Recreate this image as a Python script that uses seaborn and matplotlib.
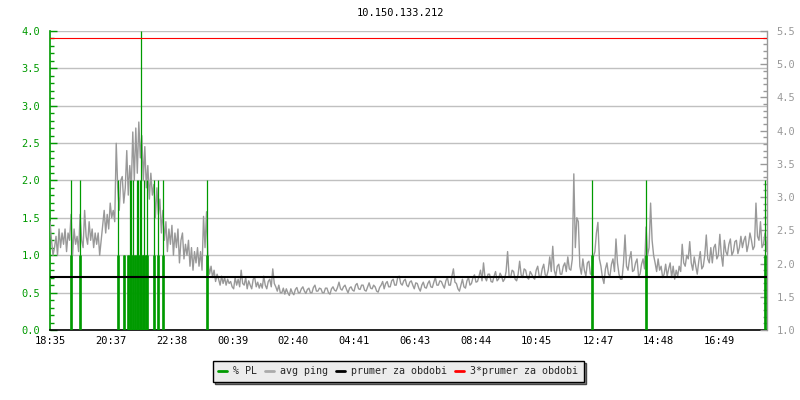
import matplotlib
matplotlib.use("Agg")
import matplotlib.pyplot as plt
import seaborn as sns
import pandas as pd
from matplotlib.lines import Line2D
from matplotlib.ticker import MultipleLocator, FixedLocator, FormatStrFormatter

# ---------------- data ----------------
title = "10.150.133.212"
start_label = "18:35"
tick_labels = ["18:35", "20:37", "22:38", "00:39", "02:40", "04:41",
               "06:43", "08:44", "10:45", "12:47", "14:48", "16:49"]
span_minutes = 1429
sample_step_min = 3

avg_ping = [
    2.63, 2.35, 2.125, 2.24, 2.41, 2.125, 2.52, 2.24, 2.46, 2.29, 2.52, 2.18, 2.46, 2.35, 2.74, 2.125, 2.52, 2.29, 2.41, 2.18,
    2.74, 2.35, 2.24, 2.80, 2.41, 2.29, 2.63, 2.35, 2.52, 2.24, 2.46, 2.29, 2.46, 2.125, 2.35, 2.575, 2.80, 2.46, 2.74, 2.52,
    2.91, 2.69, 2.80, 2.63, 3.81, 3.14, 2.80, 3.25, 3.31, 2.91, 3.14, 3.70, 3.03, 3.475, 3.14, 3.98, 3.25, 4.04, 3.36, 4.13,
    3.59, 3.925, 3.25, 3.76, 3.14, 3.475, 2.97, 3.36, 3.03, 3.19, 2.69, 3.14, 2.74, 2.97, 2.46, 2.80, 2.35, 2.63, 2.18, 2.52,
    2.29, 2.575, 2.125, 2.46, 2.24, 2.52, 2.01, 2.35, 2.46, 2.07, 2.29, 2.125, 2.35, 1.96, 2.24, 1.90, 2.18, 2.01, 2.24, 1.96,
    2.18, 1.90, 2.71, 2.24, 2.78, 2.01, 1.84, 1.96, 1.79, 1.90, 1.73, 1.84, 1.765, 1.675, 1.81, 1.70, 1.79, 1.675, 1.765, 1.70,
    1.73, 1.65, 1.62, 1.79, 1.675, 1.765, 1.65, 1.90, 1.70, 1.675, 1.79, 1.62, 1.74, 1.675, 1.62, 1.765, 1.79, 1.65, 1.72, 1.63,
    1.70, 1.63, 1.81, 1.675, 1.62, 1.73, 1.765, 1.65, 1.92, 1.70, 1.65, 1.585, 1.675, 1.56, 1.56, 1.63, 1.54, 1.62, 1.56, 1.52,
    1.62, 1.56, 1.53, 1.61, 1.64, 1.56, 1.56, 1.62, 1.65, 1.585, 1.55, 1.61, 1.63, 1.56, 1.56, 1.64, 1.675, 1.585, 1.585, 1.63,
    1.62, 1.56, 1.56, 1.63, 1.63, 1.56, 1.54, 1.62, 1.65, 1.60, 1.585, 1.64, 1.72, 1.62, 1.60, 1.65, 1.675, 1.61, 1.56, 1.63,
    1.65, 1.60, 1.585, 1.675, 1.70, 1.62, 1.61, 1.675, 1.675, 1.60, 1.585, 1.65, 1.71, 1.63, 1.62, 1.675, 1.65, 1.585, 1.57, 1.64,
    1.675, 1.73, 1.62, 1.70, 1.73, 1.65, 1.65, 1.74, 1.765, 1.675, 1.675, 1.79, 1.81, 1.70, 1.675, 1.74, 1.765, 1.675, 1.65, 1.72,
    1.74, 1.675, 1.62, 1.71, 1.70, 1.63, 1.585, 1.675, 1.72, 1.64, 1.63, 1.70, 1.74, 1.65, 1.64, 1.72, 1.79, 1.675, 1.675, 1.74,
    1.73, 1.675, 1.63, 1.74, 1.79, 1.675, 1.675, 1.81, 1.92, 1.72, 1.70, 1.62, 1.585, 1.675, 1.765, 1.65, 1.63, 1.74, 1.79, 1.675,
    1.70, 1.79, 1.83, 1.72, 1.73, 1.81, 1.90, 1.74, 2.01, 1.79, 1.74, 1.84, 1.84, 1.73, 1.72, 1.81, 1.88, 1.74, 1.765, 1.855,
    1.81, 1.73, 1.765, 1.88, 2.18, 1.81, 1.79, 1.90, 1.88, 1.765, 1.74, 1.84, 2.035, 1.83, 1.79, 1.92, 1.90, 1.79, 1.765, 1.88,
    1.84, 1.79, 1.765, 1.90, 1.96, 1.81, 1.79, 1.92, 1.99, 1.83, 1.81, 1.90, 2.10, 1.88, 2.26, 1.90, 1.81, 1.96, 1.99, 1.84,
    1.84, 1.96, 2.01, 1.88, 2.10, 1.92, 1.90, 2.07, 3.35, 2.24, 2.69, 2.63, 1.96, 1.84, 2.07, 1.90, 1.81, 2.01, 2.035, 1.84,
    1.84, 2.10, 2.18, 2.46, 2.62, 2.07, 1.96, 1.79, 1.70, 1.92, 2.01, 1.84, 1.81, 1.99, 2.07, 1.88, 2.37, 2.01, 1.84, 1.765,
    1.765, 2.01, 2.43, 1.96, 1.90, 2.07, 2.18, 1.88, 1.90, 2.01, 2.07, 1.81, 1.84, 1.99, 2.07, 1.92, 2.55, 2.125, 2.24, 2.91,
    2.35, 2.125, 2.01, 1.88, 2.07, 1.90, 1.96, 1.79, 1.84, 1.99, 1.81, 1.92, 2.01, 1.79, 1.96, 1.765, 1.90, 1.81, 1.96, 1.88,
    2.29, 2.01, 1.96, 2.125, 2.07, 2.33, 2.01, 1.90, 2.10, 1.96, 1.84, 2.035, 2.18, 1.92, 1.96, 2.125, 2.43, 2.07, 2.01, 2.24,
    2.01, 2.24, 2.29, 2.07, 2.125, 2.44, 2.125, 1.96, 2.35, 2.18, 2.125, 2.29, 2.37, 2.125, 2.18, 2.33, 2.35, 2.15, 2.24, 2.41,
    2.24, 2.35, 2.41, 2.18, 2.29, 2.46, 2.35, 2.21, 2.26, 2.91, 2.41, 2.35, 2.63, 2.24, 2.29, 2.46, 2.18, 2.52, 2.575, 2.46,
]

pl_minutes = [42, 60, 136, 148, 155, 159, 162, 166, 170, 173, 176, 179,
              182, 185, 188, 191, 194, 208, 216, 225, 312, 1080, 1187, 1425]
pl_values = [2, 2, 2, 1, 1, 2, 2, 2, 1, 2, 2, 2,
             4, 1, 2, 1, 2, 2, 2, 2, 2, 2, 2, 2]

prumer = 1.80            # average ping over the period
prumer3 = 3 * prumer

legend_labels = ["% PL", "avg ping", "prumer za obdobi", "3*prumer za obdobi"]

# ---------------- style ----------------
GREEN = "#009a00"
GRAY = "#999999"
sns.set_style("white")
plt.rcParams["font.family"] = ["DejaVu Sans Mono"]
FS = 7.5


def to_min(s):
    h, m = map(int, s.split(":"))
    sh, sm = map(int, start_label.split(":"))
    return (h * 60 + m - (sh * 60 + sm)) % 1440


df = pd.DataFrame({"t": [i * sample_step_min for i in range(len(avg_ping))],
                   "ping": avg_ping})

fig = plt.figure(figsize=(8, 4), dpi=100)
fig.patch.set_facecolor("white")
ax = fig.add_axes([50 / 800, 70 / 400, 717 / 800, 299 / 400])
ax2 = ax.twinx()

# grid on left axis (behind everything)
ax.yaxis.set_major_locator(MultipleLocator(0.5))
ax.yaxis.set_minor_locator(MultipleLocator(0.1))
ax.grid(axis="y", which="major", color="#c0c0c0", lw=1)
ax.grid(axis="x", visible=False)
ax.set_axisbelow(True)

# gray avg ping line
sns.lineplot(data=df, x="t", y="ping", ax=ax2, color=GRAY, lw=1.0,
             estimator=None, legend=False, zorder=2)

# green packet-loss bars (left scale), drawn above the gray line
thin_top = pl_values
thick_top = [min(v, 1) for v in pl_values]
ax2.vlines(pl_minutes, 0, thin_top, colors=GREEN, lw=0.9,
           transform=ax.transData, zorder=3)
ax2.vlines(pl_minutes, 0, thick_top, colors=GREEN, lw=1.9,
           transform=ax.transData, zorder=3)

ax2.axhline(prumer, color="black", lw=1.5, zorder=4)
ax2.axhline(prumer3, color="red", lw=0.8, zorder=4)

ax.set_xlim(0, span_minutes)
ax.set_ylim(0, 4.0)
ax2.set_ylim(1.0, 5.5)
for a in (ax, ax2):
    a.set_xlabel("")
    a.set_ylabel("")

# x ticks
ax.xaxis.set_major_locator(FixedLocator([to_min(s) for s in tick_labels]))
ax.set_xticklabels(tick_labels)

# spines
for s in ["top", "right"]:
    ax.spines[s].set_visible(False)
for s in ["top", "left", "bottom"]:
    ax2.spines[s].set_visible(False)
ax.spines["left"].set_color(GREEN)
ax.spines["left"].set_linewidth(1.2)
ax.spines["bottom"].set_color("black")
ax.spines["bottom"].set_linewidth(1.2)
ax2.spines["right"].set_color(GRAY)
ax2.spines["right"].set_linewidth(1.0)

ax.tick_params(axis="y", which="major", direction="in", length=5, width=1,
               colors=GREEN, labelsize=FS, pad=7)
ax.tick_params(axis="y", which="minor", direction="in", length=3, width=1,
               colors=GREEN)
ax.yaxis.set_major_formatter(FormatStrFormatter("%.1f"))
ax.tick_params(axis="x", which="major", direction="in", length=5, width=1,
               colors="black", labelsize=FS, pad=4)

ax2.yaxis.set_major_locator(MultipleLocator(0.5))
ax2.yaxis.set_minor_locator(MultipleLocator(0.1))
ax2.yaxis.set_major_formatter(FormatStrFormatter("%.1f"))
ax2.tick_params(axis="y", which="major", direction="in", length=5, width=1,
                colors=GRAY, labelsize=FS, pad=7)
ax2.tick_params(axis="y", which="minor", direction="in", length=3, width=1,
                colors=GRAY)

fig.text(0.5, 0.967, title, ha="center", va="center", fontsize=FS,
         color="black")

handles = [Line2D([], [], color=c, lw=2) for c in [GREEN, "#aaaaaa", "black", "red"]]
leg = fig.legend(handles, legend_labels, loc="center",
                 bbox_to_anchor=(0.4975, 0.0725), ncol=4, fontsize=7.2,
                 frameon=True, fancybox=False,
                 shadow={"facecolor": "#888888", "alpha": 1.0},
                 handlelength=0.9, handletextpad=0.6, columnspacing=0.8,
                 borderpad=0.55, borderaxespad=0)
leg.get_frame().set_facecolor("#ececec")
leg.get_frame().set_edgecolor("black")
leg.get_frame().set_linewidth(1.0)
leg.get_frame().set_alpha(1.0)

fig.savefig("out.png", dpi=100, facecolor="white")
